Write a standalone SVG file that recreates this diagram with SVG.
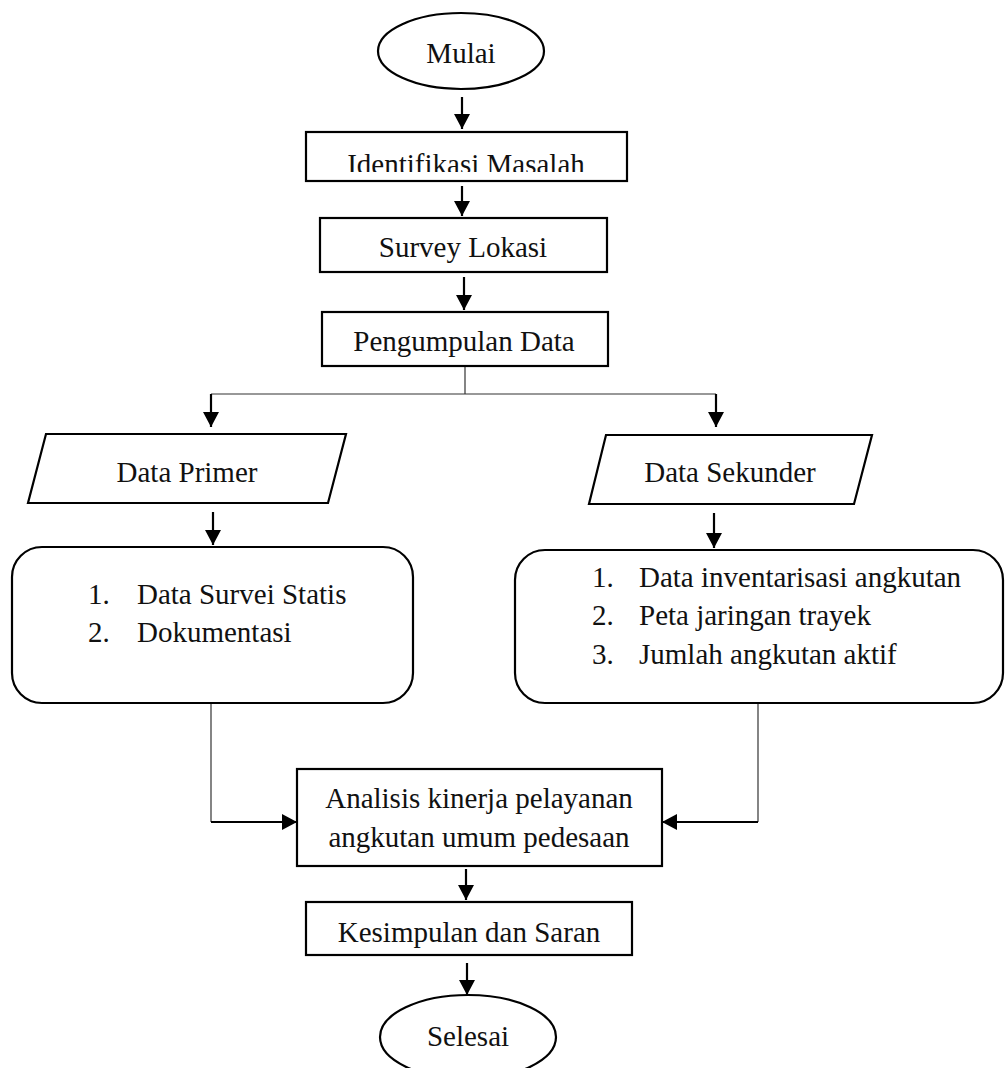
<svg xmlns="http://www.w3.org/2000/svg" width="1005" height="1068" viewBox="0 0 1005 1068">
<style>
.shape{fill:#fff;stroke:#000;stroke-width:2.2}
.t{font-family:"Liberation Serif","Times New Roman",serif;font-size:29px;fill:#111}
.c{text-anchor:middle}
.arr{stroke:#000;stroke-width:2.2;fill:none;marker-end:url(#ah)}
.thin{stroke:#333;stroke-width:1.2;fill:none}
</style>
<defs>
<marker id="ah" markerUnits="userSpaceOnUse" markerWidth="18" markerHeight="18" refX="15" refY="8" orient="auto">
<path d="M0,0 L15,8 L0,16 z" fill="#000"/>
</marker>
<clipPath id="clipIdent"><rect x="306" y="131" width="321" height="41"/></clipPath>
</defs>
<rect width="1005" height="1068" fill="#fff"/>
<g id="connectors">
<line class="arr" x1="462" y1="97" x2="462" y2="129"/>
<line class="arr" x1="462" y1="186" x2="462" y2="216"/>
<line class="arr" x1="464" y1="277" x2="464" y2="310"/>
<polyline class="thin" points="465,366 465,394"/>
<line class="thin" x1="211" y1="394" x2="716" y2="394"/>
<line class="arr" x1="211" y1="394" x2="211" y2="427"/>
<line class="arr" x1="716" y1="394" x2="716" y2="427"/>
<line class="arr" x1="213" y1="512" x2="213" y2="545"/>
<line class="arr" x1="714" y1="513" x2="714" y2="548"/>
<polyline class="thin" points="211,703 211,822"/>
<line class="arr" x1="211" y1="822" x2="297" y2="822"/>
<polyline class="thin" points="758,703 758,822"/>
<line class="arr" x1="758" y1="822" x2="662" y2="822"/>
<line class="arr" x1="466" y1="869" x2="466" y2="900"/>
<line class="arr" x1="467" y1="963" x2="467" y2="995"/>
</g>
<g id="mulai">
<ellipse class="shape" cx="461" cy="51" rx="83" ry="38"/>
<text class="t c" x="461" y="63">Mulai</text>
</g>
<g id="identifikasi">
<rect class="shape" x="306" y="132" width="321" height="49"/>
<text class="t c" x="466" y="174" clip-path="url(#clipIdent)">Identifikasi Masalah</text>
</g>
<g id="survey">
<rect class="shape" x="320" y="218" width="287" height="54"/>
<text class="t c" x="463" y="257">Survey Lokasi</text>
</g>
<g id="pengumpulan">
<rect class="shape" x="322" y="312" width="286" height="54"/>
<text class="t c" x="464" y="351">Pengumpulan Data</text>
</g>
<g id="primer">
<polygon class="shape" points="46,434 346,434 328,503 28,503"/>
<text class="t c" x="187" y="482">Data Primer</text>
</g>
<g id="sekunder">
<polygon class="shape" points="606,435 872,435 854,504 589,504"/>
<text class="t c" x="730" y="482">Data Sekunder</text>
</g>
<g id="primer-list">
<rect class="shape" x="12" y="547" width="401" height="156" rx="30" ry="30"/>
<text class="t" x="88" y="604">1.</text>
<text class="t" x="137" y="604">Data Survei Statis</text>
<text class="t" x="88" y="642">2.</text>
<text class="t" x="137" y="642">Dokumentasi</text>
</g>
<g id="sekunder-list">
<rect class="shape" x="515" y="550" width="488" height="153" rx="30" ry="30"/>
<text class="t" x="592" y="587">1.</text>
<text class="t" x="639" y="587">Data inventarisasi angkutan</text>
<text class="t" x="592" y="625">2.</text>
<text class="t" x="639" y="625">Peta jaringan trayek</text>
<text class="t" x="592" y="664">3.</text>
<text class="t" x="639" y="664">Jumlah angkutan aktif</text>
</g>
<g id="analisis">
<rect class="shape" x="297" y="769" width="365" height="97"/>
<text class="t c" x="479" y="808">Analisis kinerja pelayanan</text>
<text class="t c" x="479" y="847">angkutan umum pedesaan</text>
</g>
<g id="kesimpulan">
<rect class="shape" x="306" y="902" width="326" height="53"/>
<text class="t c" x="469" y="942">Kesimpulan dan Saran</text>
</g>
<g id="selesai">
<ellipse class="shape" cx="468" cy="1037" rx="88" ry="42"/>
<text class="t c" x="468" y="1046">Selesai</text>
</g>
</svg>
